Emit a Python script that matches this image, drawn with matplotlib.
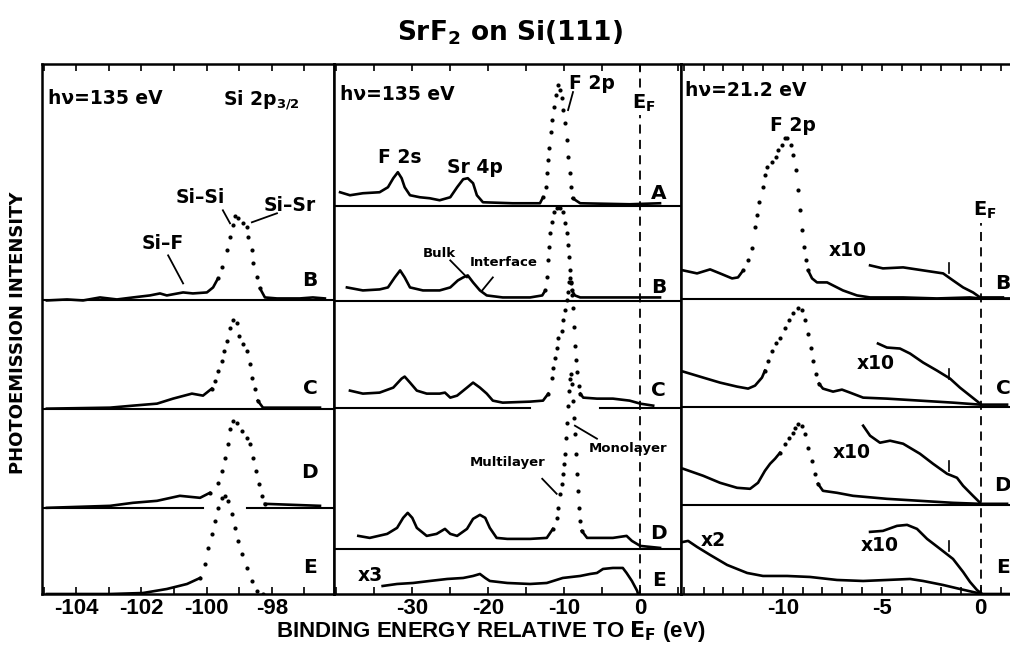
import matplotlib

matplotlib.use("Agg")
import numpy as np
from matplotlib import pyplot as plt
from matplotlib.ticker import MultipleLocator

plt.rcParams["axes.unicode_minus"] = False
plt.rcParams["font.weight"] = "bold"
plt.rcParams["mathtext.fontset"] = "dejavusans"

# ---------------- data: binding energy (eV) vs intensity (arb. units) ----------------
# left: Si 2p3/2, hv = 135 eV
si_b_e = [-104.90, -104.28, -103.79, -103.27, -102.75, -102.26, -101.74, -101.43, -101.22,
          -100.72, -100.42, -99.99, -99.80, -99.65, -99.53, -99.38, -99.28, -99.19, -99.13,
          -99.04, -98.88, -98.76, -98.73, -98.61, -98.58, -98.46, -98.36, -98.21, -97.84,
          -97.14, -96.74, -96.37]
si_b_i = [0, 1, 0, 3, 1, 3, 5, 7, 5, 8, 7, 8, 13, 22, 33, 50, 63, 75, 84, 82, 77, 73, 63,
          50, 37, 23, 12, 3, 2, 2, 3, 2]
si_c_e = [-104.90, -102.96, -102.26, -101.52, -101.03, -100.45, -100.11, -99.84, -99.74,
          -99.65, -99.53, -99.47, -99.38, -99.28, -99.19, -99.07, -99.01, -98.88, -98.76,
          -98.67, -98.61, -98.52, -98.43, -98.27, -96.52]
si_c_i = [0, 1, 3, 5, 10, 15, 13, 20, 28, 38, 48, 58, 68, 80, 88, 85, 73, 65, 58, 45, 31,
          20, 8, 1, 1]
si_d_e = [-104.90, -102.96, -102.26, -101.52, -100.82, -100.20, -99.90, -99.65, -99.53,
          -99.44, -99.35, -99.28, -99.19, -99.07, -98.92, -98.76, -98.67, -98.58, -98.49,
          -98.39, -98.30, -98.21, -96.52]
si_d_i = [0, 2, 5, 7, 12, 10, 15, 25, 37, 50, 64, 79, 87, 85, 77, 70, 64, 50, 37, 24, 12,
          4, 2]
si_e_e = [-104.90, -102.96, -101.95, -101.22, -100.60, -100.20, -100.05, -99.96, -99.84,
          -99.74, -99.65, -99.53, -99.44, -99.35, -99.22, -99.13, -99.04, -98.92, -98.76,
          -98.61, -98.46, -98.27]
si_e_i = [0, 0, 1, 5, 10, 16, 30, 46, 60, 73, 86, 96, 98, 93, 80, 66, 53, 40, 26, 13, 3, 0]

# middle: valence + shallow core, hv = 135 eV
mid_a_e = [-39.5, -38.2, -36.5, -34.3, -33.2, -32.5, -31.9, -31.4, -31.0, -30.3, -29.0,
           -27.7, -26.4, -25.0, -24.1, -23.3, -22.7, -22.0, -21.5, -20.7, -16.8, -13.2,
           -12.8, -12.4, -12.3, -12.1, -12.0, -11.8, -11.6, -11.4, -11.1, -10.8, -10.6,
           -10.3, -10.2, -9.9, -9.6, -9.5, -9.3, -9.1, -8.9, -7.9, -1.4, 2.6]
mid_a_i = [14, 11, 13, 14, 19, 28, 34, 28, 19, 11, 9, 8, 6, 9, 19, 27, 28, 23, 11, 4, 3, 3,
           9, 19, 33, 46, 58, 74, 86, 99, 111, 121, 116, 108, 96, 83, 66, 49, 33, 19, 8, 3,
           2, 3]
mid_b_e = [-38.6, -36.5, -34.3, -33.2, -32.3, -31.6, -31.0, -30.3, -28.6, -26.4, -25.0,
           -24.0, -23.3, -22.7, -22.0, -21.1, -20.2, -18.1, -14.5, -12.9, -12.5, -12.3,
           -12.1, -12.0, -11.9, -11.6, -11.4, -11.0, -10.6, -10.2, -9.9, -9.6, -9.5, -9.4,
           -9.3, -9.1, -9.0, -8.6, -7.9, 2.6]
mid_b_i = [14, 11, 12, 14, 24, 31, 24, 14, 11, 11, 14, 21, 24, 26, 19, 11, 6, 4, 4, 6, 11,
           24, 41, 54, 68, 79, 89, 93, 93, 89, 78, 68, 56, 44, 31, 19, 11, 6, 4, 4]
mid_c_e = [-38.2, -36.5, -34.3, -32.5, -31.4, -31.0, -30.3, -29.4, -28.1, -26.4, -25.7,
           -25.0, -24.1, -22.8, -22.0, -21.1, -20.2, -19.4, -18.1, -14.5, -12.8, -12.1,
           -11.6, -11.5, -11.2, -11.0, -10.8, -10.3, -10.2, -9.9, -9.6, -9.5, -9.4, -9.3,
           -9.1, -9.0, -8.9, -8.7, -8.6, -8.5, -8.3, -8.1, -7.9, -7.5, -5.7, -3.6, -1.4,
           0.0, 1.7]
mid_c_i = [17, 14, 15, 20, 29, 31, 25, 17, 14, 14, 15, 10, 12, 20, 25, 20, 14, 7, 5, 6, 7,
           14, 30, 40, 50, 60, 70, 77, 87, 97, 107, 115, 125, 129, 124, 112, 99, 80, 62, 48,
           36, 22, 14, 10, 9, 9, 7, 4, 2]
mid_d_e = [-37.1, -35.6, -33.3, -32.0, -31.2, -30.6, -30.0, -29.4, -28.1, -26.8, -25.7,
           -25.0, -24.1, -22.8, -22.0, -21.1, -20.4, -19.8, -18.9, -17.5, -14.5, -12.3,
           -11.5, -11.0, -10.8, -10.6, -10.3, -10.2, -10.0, -9.9, -9.8, -9.6, -9.5, -9.4,
           -9.3, -9.1, -9.0, -8.9, -8.7, -8.6, -8.5, -8.3, -8.2, -8.1, -7.9, -7.7, -7.0,
           -3.6, -1.8, -1.1, 0.0, 2.6]
mid_d_i = [13, 11, 15, 21, 31, 36, 31, 21, 13, 15, 20, 15, 13, 20, 30, 34, 31, 21, 11, 10,
           10, 11, 20, 31, 41, 55, 65, 75, 85, 95, 111, 126, 143, 158, 170, 175, 165, 148,
           131, 115, 95, 75, 58, 41, 28, 18, 11, 11, 13, 8, 3, 1]
mid_e_e = [-33.9, -32.0, -29.9, -27.7, -25.4, -23.3, -22.0, -21.1, -20.4, -19.8, -17.5,
           -14.5, -12.3, -10.2, -7.9, -6.6, -5.7, -4.9, -3.6, -2.3, -1.8, -1.1, -0.4, -0.3]
mid_e_i = [8, 10, 11, 13, 15, 16, 18, 20, 16, 13, 11, 10, 11, 16, 18, 20, 21, 25, 26, 26,
           21, 13, 3, 0]

# right: valence band, hv = 21.2 eV
uv_b_e = [-15.03, -14.33, -13.67, -13.17, -12.56, -12.26, -12.00, -11.75, -11.55, -11.40,
          -11.30, -11.20, -11.00, -10.90, -10.79, -10.55, -10.34, -10.24, -10.04, -9.88,
          -9.78, -9.58, -9.48, -9.34, -9.23, -9.13, -9.03, -8.92, -8.82, -8.72, -8.52,
          -8.27, -7.76, -7.46, -6.96, -6.25, -5.59, -3.92, -2.21, -0.54, -0.03, 0.97, 1.48]
uv_b_i = [29, 26, 30, 26, 21, 22, 29, 39, 51, 72, 84, 97, 112, 124, 132, 137, 142, 149,
          154, 161, 161, 154, 144, 129, 109, 89, 69, 52, 39, 29, 21, 17, 17, 14, 9, 4, 2,
          2, 1, 2, 1, 1, 1]
uv_b10_e = [-5.59, -4.94, -3.92, -2.91, -1.90, -1.40, -0.89, -0.39, -0.03, 0.47, 1.12]
uv_b10_i = [34, 31, 32, 29, 26, 19, 12, 7, 2, 2, 2]
uv_c_e = [-15.03, -14.02, -13.17, -12.31, -11.75, -11.40, -11.05, -10.90, -10.74, -10.55,
          -10.34, -10.14, -9.88, -9.68, -9.48, -9.23, -9.03, -8.87, -8.72, -8.57, -8.47,
          -8.32, -8.17, -7.97, -7.46, -7.01, -6.60, -5.94, -4.74, -3.07, -1.40, -0.03, 1.33]
uv_c_i = [35, 29, 24, 20, 18, 21, 29, 36, 46, 56, 64, 69, 78, 86, 93, 98, 96, 86, 73, 59,
          46, 33, 23, 18, 15, 17, 14, 9, 8, 6, 4, 2, 2]
uv_c10_e = [-5.19, -4.74, -4.08, -3.57, -2.91, -2.21, -1.55, -1.05, -0.54, -0.03]
uv_c10_i = [63, 59, 58, 53, 44, 36, 28, 19, 11, 3]
uv_d_e = [-15.03, -14.02, -13.17, -12.31, -11.65, -11.25, -10.90, -10.64, -10.39, -10.14,
          -9.88, -9.68, -9.48, -9.38, -9.23, -9.03, -8.87, -8.72, -8.52, -8.37, -8.22,
          -7.97, -7.26, -6.45, -4.74, -3.07, -1.40, -0.03, 1.33]
uv_d_i = [36, 29, 22, 17, 16, 22, 34, 41, 46, 52, 61, 67, 72, 77, 81, 79, 71, 57, 44, 31,
          21, 14, 12, 9, 6, 4, 2, 1, 1]
uv_d10_e = [-5.94, -5.59, -5.09, -4.58, -3.92, -3.07, -2.41, -1.70, -1.20, -0.89, -0.39,
            -0.03]
uv_d10_i = [79, 69, 62, 64, 61, 51, 41, 31, 27, 19, 9, 2]
uv_e_e = [-15.03, -14.78, -14.33, -13.67, -12.81, -11.80, -11.00, -9.78, -8.62, -7.26,
          -5.94, -4.74, -3.57, -2.91, -1.90, -1.05, -0.39, 0.07, 1.48]
uv_e_i = [52, 53, 47, 39, 29, 21, 18, 18, 17, 14, 13, 14, 15, 13, 9, 5, 2, 0, 0]
uv_e10_e = [-5.59, -4.94, -4.23, -3.72, -3.22, -2.71, -2.05, -1.40, -0.89, -0.54, -0.19,
            0.07]
uv_e10_i = [62, 63, 68, 69, 65, 55, 45, 35, 22, 12, 4, 0]

# ---------------- figure ----------------
W, H = 1010, 651
fig = plt.figure(figsize=(W / 100, H / 100), dpi=100)


def px_axes(l, t, r, b):
    return fig.add_axes([l / W, 1 - b / H, (r - l) / W, (b - t) / H])


LW = 1.9
DASH = (0, (5, 3.5))
NARROW = ["DejaVu Sans Condensed", "Liberation Sans", "DejaVu Sans"]


def trace(ax, e, i, off, dots=None):
    e = np.asarray(e, float)
    i = np.asarray(i, float) + off
    if dots is None:
        ax.plot(e, i, color="k", lw=LW, solid_joinstyle="round", zorder=3)
        return
    lo, hi = dots
    for m in (e <= lo, e >= hi):
        ax.plot(e[m], i[m], color="k", lw=LW, solid_joinstyle="round", zorder=3)
    m = (e >= lo) & (e <= hi)
    ax.plot(e[m], i[m], "o", color="k", ms=3.0, mec="none", zorder=3)


def label(ax, x, y, s, size=13.5, ha="center", **kw):
    ax.text(x, y, s, fontsize=size, fontweight="bold", ha=ha, va="center", **kw)


def pointer(ax, x0, y0, x1, y1):
    ax.plot([x0, x1], [y0, y1], color="k", lw=1.3, zorder=4)


def sep(ax, y, x0, x1):
    ax.plot([x0, x1], [y, y], color="k", lw=1.5, zorder=2)


def style(ax, xlim, ticks, minor):
    ax.set_xlim(*xlim)
    ax.set_ylim(0, 529)
    ax.set_yticks([])
    ax.set_xticks(ticks)
    ax.set_xticklabels([str(t) for t in ticks], fontfamily=NARROW, fontweight="bold",
                       fontsize=16)
    ax.xaxis.set_minor_locator(MultipleLocator(minor))
    ax.tick_params(axis="x", which="both", direction="in", top=True, bottom=True,
                   length=5, width=1.2, pad=3)
    for sp in ax.spines.values():
        sp.set_linewidth(1.8)


ax1 = px_axes(42, 64, 334, 594)
ax2 = px_axes(334, 64, 681, 594)
ax3 = px_axes(681, 64, 1013, 594)

# ---- left panel: Si 2p
style(ax1, (-105.05, -96.09), [-104, -102, -100, -98], 1)
sep(ax1, 293, -105.05, -96.09)
sep(ax1, 185, -105.05, -96.09)
sep(ax1, 86, -105.05, -100.11)
sep(ax1, 86, -98.76, -96.09)
trace(ax1, si_b_e, si_b_i, 293, (-99.65, -98.36))
trace(ax1, si_c_e, si_c_i, 185, (-99.84, -98.43))
trace(ax1, si_d_e, si_d_i, 86, (-99.90, -98.21))
trace(ax1, si_e_e, si_e_i, 0, (-100.20, -97.0))
label(ax1, -104.87, 495, "hν=135 eV", ha="left")
label(ax1, -98.33, 493, r"Si 2p$_{\mathbf{3/2}}$")
label(ax1, -100.20, 396, "Si–Si")
label(ax1, -97.44, 388, "Si–Sr")
label(ax1, -101.34, 350, "Si–F")
pointer(ax1, -99.50, 383, -99.28, 370)
pointer(ax1, -97.84, 380, -98.61, 371)
pointer(ax1, -101.18, 338, -100.72, 310)
for s, y in zip("BCDE", [313, 205, 121, 26]):
    label(ax1, -96.83, y, s, size=14.5)

# ---- middle panel
style(ax2, (-40.3, 5.36), [-30, -20, -10, 0], 5)
ax2.axvline(0, color="k", lw=1.3, ls=DASH, zorder=2)
sep(ax2, 387, -40.3, 5.36)
sep(ax2, 292, -40.3, 5.36)
sep(ax2, 186, -40.3, -14.5)
sep(ax2, 186, -5.3, 5.36)
sep(ax2, 45, -40.3, 5.36)
trace(ax2, mid_a_e, mid_a_i, 387, (-12.8, -8.9))
trace(ax2, mid_b_e, mid_b_i, 292, (-12.5, -9.0))
trace(ax2, mid_c_e, mid_c_i, 186, (-12.1, -7.9))
trace(ax2, mid_d_e, mid_d_i, 45, (-11.5, -7.7))
trace(ax2, mid_e_e, mid_e_i, 0)
label(ax2, -39.5, 499, "hν=135 eV", ha="left")
label(ax2, -31.6, 436, "F 2s")
label(ax2, -21.8, 426, "Sr 4p")
label(ax2, -6.3, 510, "F 2p")
pointer(ax2, -8.85, 501, -9.5, 483)
label(ax2, 0.5, 490, r"$\mathbf{E_F}$", size=14,
      bbox=dict(fc="white", ec="none", pad=1))
label(ax2, -26.4, 340, "Bulk", size=9.5)
label(ax2, -18.0, 331, "Interface", size=9.5)
pointer(ax2, -25.0, 333, -22.8, 316)
pointer(ax2, -19.4, 316, -20.8, 303)
label(ax2, -17.5, 131, "Multilayer", size=9.5)
label(ax2, -1.6, 145, "Monolayer", size=9.5)
pointer(ax2, -12.9, 115, -11.0, 100)
pointer(ax2, -8.6, 168, -5.7, 155)
label(ax2, -35.5, 18, "x3")
for s, y in zip("ABCDE", [400, 306, 203, 60, 13]):
    label(ax2, 2.4, y, s, size=14.5)

# ---- right panel
style(ax3, (-15.14, 1.63), [-10, -5, 0], 1)
ax3.plot([0, 0], [0, 370], color="k", lw=1.3, ls=DASH, zorder=2)
sep(ax3, 294, -15.14, 1.63)
sep(ax3, 187, -15.14, 1.63)
sep(ax3, 89, -15.14, 1.63)
trace(ax3, uv_b_e, uv_b_i, 294, (-12.0, -8.72))
trace(ax3, uv_b10_e, uv_b10_i, 294)
trace(ax3, uv_c_e, uv_c_i, 187, (-10.9, -8.17))
trace(ax3, uv_c10_e, uv_c10_i, 187)
trace(ax3, uv_d_e, uv_d_i, 89, (-10.14, -8.22))
trace(ax3, uv_d10_e, uv_d10_i, 89)
trace(ax3, uv_e_e, uv_e_i, 0)
trace(ax3, uv_e10_e, uv_e10_i, 0)
for y0 in (320, 215, 123, 43):
    ax3.plot([-1.6, -1.6], [y0, y0 + 10], color="k", lw=1.2)
label(ax3, -14.93, 503, "hν=21.2 eV", ha="left")
label(ax3, -9.5, 468, "F 2p")
label(ax3, 0.22, 383, r"$\mathbf{E_F}$", size=14)
label(ax3, -6.7, 343, "x10")
label(ax3, -5.3, 230, "x10")
label(ax3, -6.5, 141, "x10")
label(ax3, -5.1, 48, "x10")
label(ax3, -13.5, 53, "x2")
for s, y in zip("BCDE", [310, 205, 108, 26]):
    label(ax3, 1.12, y, s, size=14.5)

# ---- figure texts
fig.text(510 / W, 1 - 33 / H, r"SrF$_\mathbf{2}$ on Si(111)", fontsize=19,
         fontweight="bold", ha="center", va="center")
fig.text(18 / W, 1 - 333 / H, "PHOTOEMISSION INTENSITY", rotation=90, fontsize=13,
         fontweight="bold", ha="center", va="center")
fig.text(491 / W, 1 - 632 / H, r"BINDING ENERGY RELATIVE TO $\mathbf{E_F}$ (eV)",
         fontsize=16, fontweight="bold", ha="center", va="center", family=NARROW)

fig.savefig("out.png", dpi=100)
